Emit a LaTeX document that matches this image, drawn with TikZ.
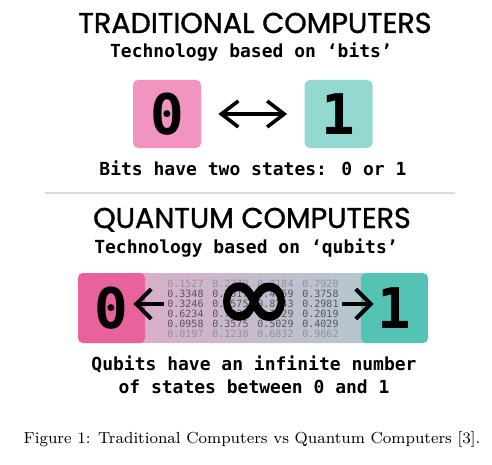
\documentclass[tikz,border=0pt]{standalone}
\usepackage{fontspec}
\usetikzlibrary{arrows.meta}
\newfontfamily\headfont{Poppins}[FakeBold=1.2]
\newfontfamily\codefont{DejaVu Sans Mono}
\newfontfamily\symbfont{DejaVu Sans}[FakeBold=2.5]
\definecolor{bitpink}{HTML}{F194C0}
\definecolor{bitteal}{HTML}{93D9D2}
\definecolor{qupink}{HTML}{E8639E}
\definecolor{quteal}{HTML}{55C3B4}
\definecolor{midpink}{HTML}{E3A7C7}
\definecolor{midteal}{HTML}{A8CFD1}
\definecolor{tablegray}{HTML}{56565F}
\definecolor{rulegray}{HTML}{DCDCDC}

\begin{document}
\begin{tikzpicture}[x=0.5pt,y=-0.5pt]
	\tikzset{>={Straight Barb[length=8.5pt,width=13pt]},
		heading/.style={font=\headfont\fontsize{14.3}{17}\selectfont, anchor=base},
		subline/.style={font=\codefont\bfseries\fontsize{9}{11}\selectfont, anchor=base},
		bitbox/.style={rounded corners=2.5pt, minimum width=34pt, minimum height=34pt, inner sep=0pt,
			font=\codefont\bfseries\fontsize{28}{28}\selectfont},
		qbox/.style={bitbox, minimum width=33.5pt, minimum height=35pt},
		cell/.style={font=\codefont\fontsize{5}{5}\selectfont, anchor=base west, inner sep=0pt, text=tablegray},
		faint/.style={text=tablegray!65}}
	\useasboundingbox (0,0) rectangle (492,465);
	% traditional computers
	\node[heading] (title1) at (255,33) {TRADITIONAL COMPUTERS};
	\node[subline] (tech1) at (251,58) {Technology based on ‘bits’};
	\node[bitbox, fill=bitpink] (bit0) at (167,114) {0};
	\node[bitbox, fill=bitteal] (bit1) at (338.5,114) {1};
	\draw[line width=1.8pt, <->] ([xshift=8.5pt]bit0.east) -- ([xshift=-8.5pt]bit1.west);
	\node[subline] (bits) at (253,175) {Bits have two states: 0 or 1};
	\draw[rulegray, line width=1pt] (45,193) -- (455,193);
	% quantum computers
	\node[heading] (title2) at (252,228) {QUANTUM COMPUTERS};
	\node[subline] (tech2) at (246,253) {Technology based on ‘qubits’};
	\shade[left color=midpink, right color=midteal, rounded corners=2.5pt] (78,273) rectangle (428,343);
	\foreach \v [count=\c] in {0.1527,0.2379,0.7184,0.7920}
		\node[cell, faint] (ra\c) at ({122+45*\c},287.5) {\v};
	\foreach \v [count=\c] in {0.3348,0.5017,0.4659,0.3758}
		\node[cell] (rb\c) at ({122+45*\c},297.5) {\v};
	\foreach \v [count=\c] in {0.3246,0.1575,0.8243,0.2981}
		\node[cell] (rc\c) at ({122+45*\c},307.5) {\v};
	\foreach \v [count=\c] in {0.6234,0.7825,0.1029,0.2019}
		\node[cell] (rd\c) at ({122+45*\c},317.5) {\v};
	\foreach \v [count=\c] in {0.0958,0.3575,0.5029,0.4029}
		\node[cell] (re\c) at ({122+45*\c},327.5) {\v};
	\foreach \v [count=\c] in {0.0197,0.1238,0.6832,0.9862}
		\node[cell, faint] (rf\c) at ({122+45*\c},337.5) {\v};
	\node[qbox, fill=qupink] (q0) at (111.5,308) {0};
	\node[qbox, fill=quteal] (q1) at (394.5,308) {1};
	\node[font=\symbfont\fontsize{48}{48}\selectfont, inner sep=0pt] (inf) at (254,307) {∞};
	\coordinate (ltail) at (164,304);
	\coordinate (rtail) at (342,304);
	\draw[line width=2pt, ->, >={Straight Barb[length=7.5pt,width=15pt]}] (ltail) -- ([xshift=-6pt]ltail -| q0.east);
	\draw[line width=2pt, ->, >={Straight Barb[length=7.5pt,width=15pt]}] (rtail) -- ([xshift=6.5pt]rtail -| q1.west);
	\node[subline] (qtext1) at (254,370) {Qubits have an infinite number};
	\node[subline] (qtext2) at (254,393) {of states between 0 and 1};
	% caption
	\node[anchor=base, font=\fontsize{8}{10}\selectfont] (caption) at (252,443) {Figure 1: Traditional Computers vs Quantum Computers [3].};
\end{tikzpicture}
\end{document}
